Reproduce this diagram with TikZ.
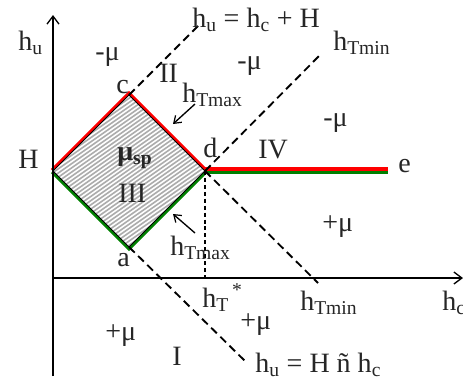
\documentclass[tikz,border=0pt]{standalone}
\usepackage{fontspec}
\setmainfont{Liberation Serif}
\usetikzlibrary{arrows.meta}
\begin{document}
\begin{tikzpicture}[x=0.75pt,y=-0.75pt,
  lbl/.style={inner sep=0pt,anchor=base west,text=black!85,font=\fontsize{21}{25}\selectfont},
  axisline/.style={line width=1.3pt,-{Straight Barb[length=6pt,width=9pt,line width=1pt]}},
  bigdash/.style={line width=1.4pt,dash pattern=on 6pt off 3.6pt},
  thindash/.style={line width=0.8pt,dash pattern=on 3pt off 2.2pt},
  redline/.style={draw=red,line width=4.4pt},
  greenline/.style={draw=green!50!black,line width=4.4pt},
  hatchline/.style={gray!65,line width=1.2pt},
  pointer/.style={line width=1pt,-{Straight Barb[length=5pt,width=7pt,line width=0.9pt]}}]
\useasboundingbox (0,0) rectangle (463,386);
% key points
\coordinate (O) at (53,278);
\coordinate (Ytop) at (53,15);
\coordinate (Ybot) at (53,376);
\coordinate (Xend) at (463,278);
\coordinate (H) at (53,171);
\coordinate (c) at (129,95);
\coordinate (d) at (205,171);
\coordinate (a) at (129,247);
\coordinate (eR) at (388,169);
\coordinate (eG) at (388,172.5);
\coordinate (dR) at (205,169);
\coordinate (dG) at (205,172.5);
\coordinate (c1) at (200,24);
\coordinate (d1) at (320,55);
\coordinate (a1) at (245,361);
\coordinate (d2) at (318,283);
\coordinate (dT) at (205,278);
\coordinate (p1s) at (195,104);
\coordinate (p1e) at (173,124);
\coordinate (p2s) at (195,233);
\coordinate (p2e) at (173,214);
% coloured borders
\draw[redline,line join=miter] (H) -- (c) -- (d);
\draw[greenline,line join=miter] (H) -- (a) -- (d);
\draw[draw=red,line width=2.6pt] (dR) -- (eR);
\draw[draw=green!50!black,line width=2.6pt] (dG) -- (eG);
% hatched region
\begin{scope}
  \clip (H) -- (c) -- (d) -- (a) -- cycle;
  \fill[white] (H) -- (c) -- (d) -- (a) -- cycle;
  \foreach \x in {-300,-294,...,240}
    \draw[hatchline] (\x,260) -- ++(300,-210);
\end{scope}
\draw[line width=0.7pt] (H) -- (c) -- (d) -- (a) -- cycle;
% axes
\draw[axisline] (Ybot) -- (Ytop);
\draw[axisline] (O) -- (Xend);
% dashed lines
\draw[bigdash] (c) -- (c1);
\draw[bigdash] (d) -- (d1);
\draw[bigdash] (a) -- (a1);
\draw[bigdash] (d) -- (d2);
\draw[thindash] (d) -- (dT);
% pointers
\draw[pointer] (p1s) -- (p1e);
\draw[pointer] (p2s) -- (p2e);
% labels
\node[lbl] (lhu) at (18,50) {h\textsubscript{u}};
\node[lbl] (lmu1) at (95,60) {-μ};
\node[lbl] (lc) at (116,93) {c};
\node[lbl] (lII) at (159,82) {II};
\node[lbl] (ltmax1) at (182,102) {h\textsubscript{Tmax}};
\node[lbl] (leq1) at (192,27) {h\textsubscript{u} = h\textsubscript{c} + H};
\node[lbl] (ltmin1) at (333,50) {h\textsubscript{Tmin}};
\node[lbl] (lmu2) at (237,69) {-μ};
\node[lbl] (lmu3) at (323,126) {-μ};
\node[lbl] (lIV) at (258,158) {IV};
\node[lbl] (ld) at (203,157) {d};
\node[lbl] (lH) at (18,168) {H};
\node[lbl] (le) at (398,172) {e};
\node[lbl] (lmusp) at (117,160) {\textbf{μ\textsubscript{sp}}};
\node[lbl] (lIII) at (118,202) {III};
\node[lbl] (la) at (117,266) {a};
\node[lbl] (ltmax2) at (170,255) {h\textsubscript{Tmax}};
\node[lbl] (lhT) at (202,307) {h\textsubscript{T}\textsuperscript{\,*}};
\node[lbl] (lmu4) at (240,329) {+μ};
\node[lbl] (lmu5) at (105,340) {+μ};
\node[lbl] (lmu6) at (322,231) {+μ};
\node[lbl] (lI) at (172,365) {I};
\node[lbl] (ltmin2) at (300,310) {h\textsubscript{Tmin}};
\node[lbl] (lhc) at (442,310) {h\textsubscript{c}};
\node[lbl] (leq2) at (255,372) {h\textsubscript{u} = H ñ h\textsubscript{c}};
\end{tikzpicture}
\end{document}
